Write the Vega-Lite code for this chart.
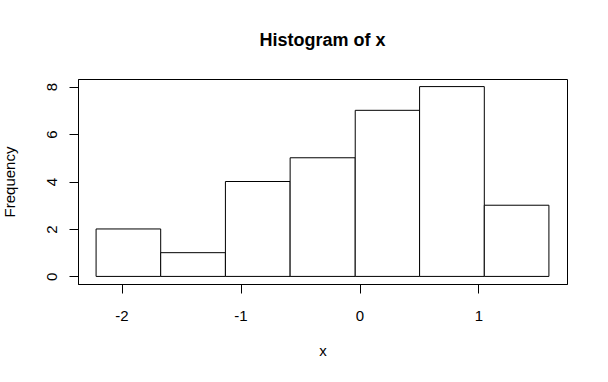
{
  "$schema": "https://vega.github.io/schema/vega-lite/v6.json",
  "width": 489,
  "height": 205,
  "autosize": {"type": "none"},
  "padding": {"left": 78, "top": 79, "right": 41, "bottom": 98},
  "background": "white",
  "title": {"text": "Histogram of x", "anchor": "middle", "frame": "group", "baseline": "alphabetic", "offset": 15, "font": "Liberation Sans", "fontSize": 18, "fontWeight": "bold", "color": "black"},
  "data": {"values": [
    {"bin_start": -2.214, "bin_end": -1.671, "count": 2},
    {"bin_start": -1.671, "bin_end": -1.127, "count": 1},
    {"bin_start": -1.127, "bin_end": -0.583, "count": 4},
    {"bin_start": -0.583, "bin_end": -0.036, "count": 5},
    {"bin_start": -0.036, "bin_end": 0.505, "count": 7},
    {"bin_start": 0.505, "bin_end": 1.049, "count": 8},
    {"bin_start": 1.049, "bin_end": 1.592, "count": 3}
  ]},
  "mark": {"type": "rect", "fill": "white", "stroke": "black", "strokeWidth": 1},
  "encoding": {
    "x": {"field": "bin_start", "type": "quantitative",
      "scale": {"domain": [-2.366, 1.744], "nice": false, "zero": false},
      "axis": {"values": [-2, -1, 0, 1], "labelExpr": "'' + datum.value", "title": "x", "labelBaseline": "alphabetic", "labelPadding": 27, "titleX": 244.5, "titleY": 71, "titleBaseline": "alphabetic", "titleAlign": "center"}},
    "x2": {"field": "bin_end"},
    "y": {"field": "count", "type": "quantitative",
      "scale": {"domain": [-0.32, 8.32], "nice": false, "zero": false},
      "axis": {"values": [0, 2, 4, 6, 8], "labelExpr": "'' + datum.value", "title": "Frequency", "labelAngle": -90, "labelAlign": "center", "labelBaseline": "alphabetic", "labelPadding": 13, "titleX": -64, "titleY": 102.5, "titleAngle": -90, "titleBaseline": "alphabetic", "titleAlign": "center"}},
    "y2": {"datum": 0}
  },
  "config": {
    "view": {"stroke": "black", "strokeWidth": 1},
    "axis": {"domainColor": "black", "tickColor": "black", "labelColor": "black", "titleColor": "black", "labelFont": "Liberation Sans", "titleFont": "Liberation Sans", "labelFontSize": 15, "titleFontSize": 15, "titleFontWeight": "normal", "grid": false, "tickSize": 9, "domainWidth": 1, "tickWidth": 1, "labelOverlap": false, "labelFlush": false}
  }
}
